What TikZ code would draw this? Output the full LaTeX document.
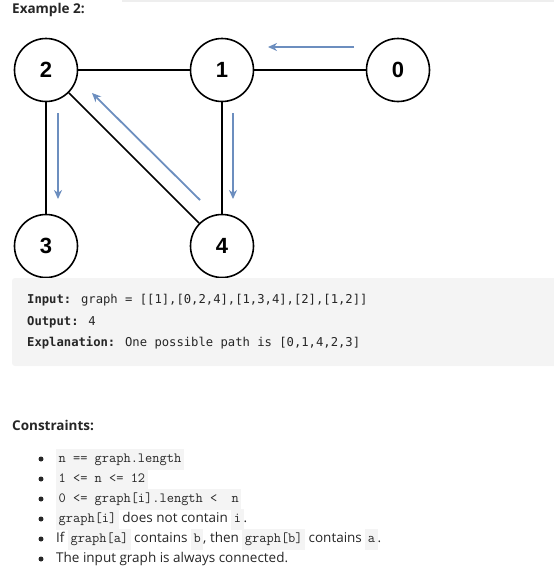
\documentclass[tikz,border=0pt]{standalone}
\usepackage{fontspec}
\setmainfont{Open Sans}
\newfontfamily\codefont{DejaVu Sans Mono}
\newfontfamily\numfont{Liberation Sans}
\usetikzlibrary{arrows.meta}
\definecolor{flowblue}{HTML}{6C8EBF}
\definecolor{codebg}{HTML}{F4F4F4}
\definecolor{inkgray}{HTML}{262626}
\definecolor{topbar}{HTML}{EEEEEE}
\newcommand{\inl}[1]{{\setlength{\fboxsep}{2.5pt}\colorbox{codebg}{\fontsize{14}{16}\ttfamily\strut #1}}}
\begin{document}
\begin{tikzpicture}[x=1pt,y=-1pt,
                vertex/.style={draw,circle,line width=1.6pt,minimum size=63pt,inner sep=0pt,font=\numfont\bfseries\fontsize{22}{22}\selectfont},
                edge/.style={line width=1.6pt},
                flow/.style={draw=flowblue,line width=1.8pt,-{Stealth[length=9pt,width=8pt]}},
                heading/.style={anchor=west,inner sep=0pt,font=\bfseries\fontsize{13.5}{15}\selectfont,text=inkgray},
                codeline/.style={anchor=west,inner sep=0pt,font=\codefont\fontsize{12.2}{14}\selectfont,text=inkgray},
                item/.style={anchor=west,inner sep=0pt,font=\fontsize{13.5}{16}\selectfont,text=inkgray},
                dot/.style={circle,fill=inkgray,inner sep=0pt,minimum size=5pt}]
                \useasboundingbox (0,0) rectangle (554,576);
                \fill[topbar] (122,0) rectangle (554,2);
                \node[heading] (title) at (12,10) {Example 2:};
                % graph
                \node[vertex] (n2) at (46,70) {2};
                \node[vertex] (n1) at (222,70) {1};
                \node[vertex] (n0) at (398,70) {0};
                \node[vertex] (n3) at (46,246) {3};
                \node[vertex] (n4) at (222,246) {4};
                \draw[edge] (n2) -- (n1);
                \draw[edge] (n1) -- (n0);
                \draw[edge] (n2) -- (n3);
                \draw[edge] (n1) -- (n4);
                \draw[edge] (n2) -- (n4);
                % path
                \coordinate (f0s) at (354,47);
                \coordinate (f0e) at (268,47);
                \coordinate (f1s) at (233,113);
                \coordinate (f1e) at (233,199);
                \coordinate (f4s) at (200,200);
                \coordinate (f4e) at (92,93);
                \coordinate (f2s) at (58,113);
                \coordinate (f2e) at (58,199);
                \draw[flow] (f0s) -- (f0e);
                \draw[flow] (f1s) -- (f1e);
                \draw[flow] (f4s) -- (f4e);
                \draw[flow] (f2s) -- (f2e);
                % example box
                \fill[codebg,rounded corners=3pt] (12,278) rectangle (560,366);
                \node[codeline] (in) at (27,300) {\textbf{Input:} graph = [[1],[0,2,4],[1,3,4],[2],[1,2]]};
                \node[codeline] (out) at (27,322) {\textbf{Output:} 4};
                \node[codeline] (expl) at (27,343) {\textbf{Explanation:} One possible path is [0,1,4,2,3]};
                % constraints
                \node[heading] (cons) at (12,425) {Constraints:};
                \foreach \i/\y in {1/459,2/479,3/499,4/519,5/539,6/559}
                  \node[dot] (b\i) at (41,\y) {};
                \node[item] (c1) at (56,459) {\inl{n == graph.length}};
                \node[item] (c2) at (56,479) {\inl{1 <= n <= 12}};
                \node[item] (c3) at (56,499) {\inl{0 <= graph[i].length <\ \ n}};
                \node[item] (c4) at (56,519) {\inl{graph[i]} does not contain \inl{i}.};
                \node[item] (c5) at (56,539) {If \inl{graph[a]} contains \inl{b}, then \inl{graph[b]} contains \inl{a}.};
                \node[item] (c6) at (56,559) {The input graph is always connected.};
\end{tikzpicture}
\end{document}
